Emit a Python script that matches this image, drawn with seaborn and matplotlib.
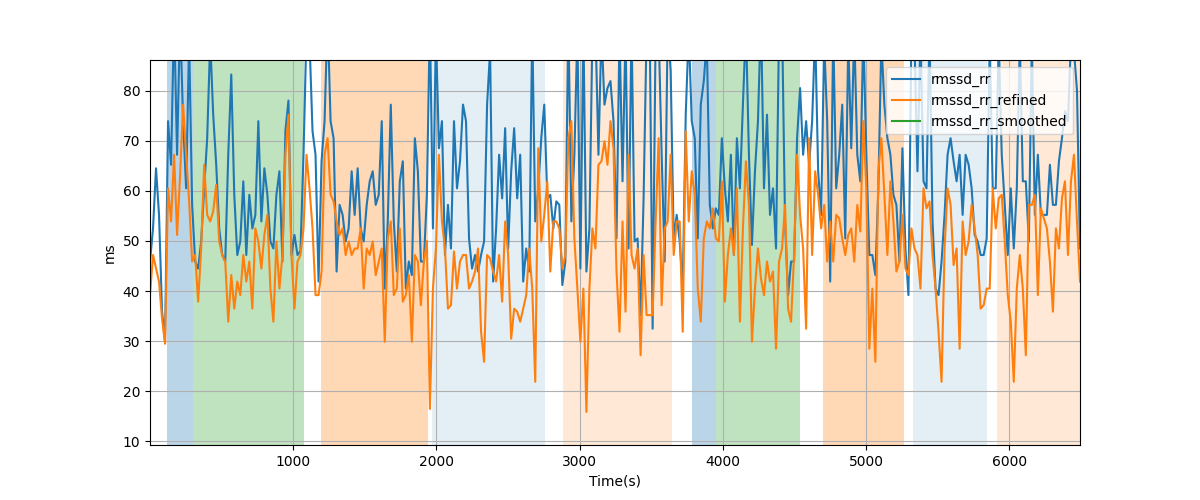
import numpy as np
import pandas as pd
import matplotlib
matplotlib.use("Agg")
import matplotlib.pyplot as plt
from matplotlib.lines import Line2D
import seaborn as sns

# ---- data ----
time_start = 3.0   # seconds, first sample
time_step = 21.0   # seconds between samples
rmssd_rr = [
    45.9, 52.5, 64.5, 55.2, 36.0, 29.9, 73.9, 65.2, 95, 67.2, 95, 73.9, 60.5, 90, 57.2, 45.9, 44.5, 49.9, 60.5, 70.5,
    90, 75.2, 65.2, 52.5, 47.2, 45.9, 67.2, 83.2, 59.2, 47.2, 49.9, 61.9, 47.2, 59.2, 52.5, 55.2, 73.9, 53.9, 64.5, 59.2,
    49.9, 48.5, 59.2, 63.9, 45.9, 72.0, 78.0, 47.2, 51.2, 47.2, 48.0, 67.2, 92, 90, 71.9, 67.2, 41.9, 65.9, 73.9, 95,
    73.9, 70.5, 43.9, 57.2, 55.2, 49.9, 52.5, 63.9, 55.2, 64.5, 52.5, 49.9, 57.2, 61.9, 63.9, 57.2, 59.2, 73.9, 40.5,
    53.9, 77.2, 53.9, 43.9, 61.9, 65.9, 40.5, 45.9, 43.2, 70.5, 63.9, 45.9, 45.9, 59.2, 95, 52.5, 92, 68.5, 73.9, 47.2,
    57.2, 48.5, 73.9, 60.5, 65.9, 77.2, 73.9, 50.5, 44.5, 47.2, 43.9, 47.2, 49.9, 77.2, 88, 41.9, 52.5, 67.2, 58.5,
    72.5, 48.5, 63.9, 72.5, 58.5, 67.2, 41.9, 48.5, 43.9, 93, 53.9, 60.5, 70.5, 77.2, 58.5, 59.2, 52.5, 57.9, 57.2, 41.2,
    45.9, 95, 53.9, 67.2, 92, 44.5, 93, 43.9, 52.5, 92, 93, 67.2, 92, 77.2, 80.5, 81.9, 73.9, 50.5, 92,
    61.9, 92, 48.5, 93, 49.9, 50.5, 35.2, 58.5, 92, 95, 32.5, 92, 92, 67.2, 45.9, 93, 83.9, 50.5, 55.2, 49.9,
    40.5, 75.2, 92, 73.9, 70.5, 50.5, 77.2, 81.9, 90, 57.2, 52.5, 56.5, 55.2, 70.5, 60.5, 53.9, 67.2, 47.2, 70.5,
    60.5, 77.2, 93, 67.2, 49.2, 63.9, 73.9, 95, 60.5, 75.2, 55.2, 60.5, 48.5, 92, 94, 53.9, 39.2, 45.9, 45.9, 70.5,
    80.5, 67.2, 73.9, 65.2, 73.9, 92, 63.9, 55.2, 90, 73.9, 41.9, 92, 60.5, 67.2, 77.2, 50.5, 90, 68.5, 92,
    67.2, 61.9, 92, 67.2, 47.2, 47.2, 43.2, 60.5, 90, 77.2, 70.5, 67.2, 59.2, 57.2, 45.9, 68.5, 48.5, 39.2, 92, 90,
    63.9, 92, 61.9, 60.5, 92, 53.9, 40.5, 39.2, 45.9, 55.2, 67.2, 70.5, 65.9, 61.9, 67.2, 55.2, 67.2, 65.2, 60.5,
    51.2, 49.9, 47.2, 47.2, 50.5, 90, 60.5, 60.5, 90, 67.2, 57.2, 47.2, 60.5, 48.5, 60.5, 90, 61.9, 61.9, 49.9, 90,
    55.2, 67.2, 55.2, 55.2, 55.2, 65.2, 57.2, 57.2, 65.9, 70.5, 75.9, 73.9, 90, 88, 80, 48.5,
]
rmssd_rr_refined = [
    39.2, 47.2, 44.5, 41.9, 34.5, 29.5, 60.5, 53.9, 67.2, 51.2, 63.2, 77.2, 67.2, 57.9, 45.9, 47.2, 37.9, 48.5, 65.2, 55.2,
    53.9, 55.9, 61.2, 49.9, 47.2, 45.9, 33.9, 43.2, 36.5, 41.9, 39.2, 47.2, 41.9, 45.9, 36.5, 52.5, 49.9, 44.5, 51.2, 55.2,
    40.5, 33.9, 49.9, 40.5, 47.2, 67.2, 75.2, 47.2, 36.5, 45.9, 47.2, 52.5, 67.2, 60.5, 52.5, 39.2, 39.2, 43.9, 67.2, 70.5,
    59.2, 57.9, 53.9, 51.2, 52.5, 47.2, 49.9, 47.2, 48.5, 48.5, 52.5, 40.5, 48.5, 47.2, 49.9, 43.2, 45.9, 48.5, 29.9,
    50.5, 53.9, 39.2, 40.5, 52.5, 37.9, 39.2, 43.2, 29.9, 47.2, 45.9, 37.2, 45.9, 50.0, 16.5, 40.5, 48.5, 67.2, 53.9, 48.5,
    36.5, 37.2, 47.9, 40.5, 45.9, 47.2, 47.2, 40.5, 41.9, 43.9, 48.5, 31.9, 25.9, 47.2, 46.5, 43.9, 41.9, 47.2, 37.9,
    53.9, 47.2, 30.5, 36.5, 35.9, 33.9, 36.5, 39.2, 48.5, 40.5, 21.9, 68.5, 49.9, 55.2, 61.9, 43.9, 53.9, 53.9, 52.5, 44.5,
    47.2, 70.5, 73.9, 50.5, 40.5, 29.9, 40.5, 15.9, 40.5, 52.5, 48.5, 65.2, 65.9, 69.9, 65.2, 73.9, 68.5, 43.9, 31.9,
    53.9, 35.9, 67.2, 47.2, 44.5, 48.5, 27.2, 47.2, 35.2, 35.2, 35.2, 53.9, 70.5, 37.2, 52.5, 53.9, 67.2, 47.2, 53.9, 53.9,
    31.9, 71.9, 53.9, 63.9, 59.2, 40.5, 33.9, 50.5, 53.9, 52.5, 56.5, 50.5, 49.9, 61.9, 37.9, 47.2, 52.5, 47.2, 60.5,
    33.9, 52.5, 65.9, 57.2, 29.9, 40.5, 48.5, 42.5, 39.2, 45.9, 41.9, 43.9, 28.5, 45.9, 48.5, 57.2, 36.5, 33.9, 47.2, 67.2,
    55.2, 48.5, 32.5, 70.5, 47.2, 63.9, 59.2, 52.5, 57.2, 45.9, 53.9, 45.9, 55.2, 54.5, 50.5, 47.2, 51.2, 52.5, 45.9,
    57.2, 51.9, 73.9, 60.5, 28.5, 40.5, 25.9, 63.9, 70.5, 59.2, 47.2, 61.9, 53.9, 43.9, 45.9, 55.2, 44.5, 43.2, 52.5, 48.5,
    47.2, 40.5, 60.5, 56.5, 57.9, 47.2, 40.5, 31.9, 21.9, 48.5, 60.5, 57.2, 45.2, 48.5, 28.5, 53.9, 47.2, 49.9, 57.2,
    52.5, 47.2, 36.5, 37.2, 40.5, 40.5, 60.5, 52.5, 58.5, 59.2, 49.9, 39.2, 33.9, 21.9, 40.5, 47.2, 40.5, 27.2, 57.2, 57.2,
    59.2, 39.2, 56.5, 54.5, 52.5, 45.9, 35.9, 52.5, 48.5, 58.5, 61.9, 47.2, 61.9, 67.2, 53.9, 41.9,
]
rmssd_rr_smoothed = []  # not visible in the reference (empty series)

# shaded phases: (start, end, colour, alpha)
span_starts = [120, 300, 1193, 1968, 2883, 3784, 3952, 4699, 5325, 5914]
span_ends = [300, 1075, 1946, 2756, 3645, 3952, 4536, 5267, 5842, 6500]
span_colors = ["tab:blue", "tab:green", "tab:orange", "tab:blue", "tab:orange",
               "tab:blue", "tab:green", "tab:orange", "tab:blue", "tab:orange"]
span_alphas = [0.3, 0.3, 0.3, 0.12, 0.17, 0.3, 0.3, 0.3, 0.12, 0.17]

n = min(len(rmssd_rr), len(rmssd_rr_refined))
time = time_start + np.arange(n) * time_step

df = pd.DataFrame({
    "Time(s)": np.concatenate([time, time]),
    "ms": np.concatenate([rmssd_rr[:n], rmssd_rr_refined[:n]]),
    "series": ["rmssd_rr"] * n + ["rmssd_rr_refined"] * n,
})

fig, ax = plt.subplots(figsize=(12, 5), dpi=100)

for s, e, c, a in zip(span_starts, span_ends, span_colors, span_alphas):
    ax.axvspan(s, e, color=c, alpha=a, lw=0)

sns.lineplot(data=df, x="Time(s)", y="ms", hue="series",
             palette=["tab:blue", "tab:orange"], estimator=None, sort=False,
             linewidth=1.5, ax=ax)
ax.plot(time[:len(rmssd_rr_smoothed)], rmssd_rr_smoothed, color="tab:green")

ax.grid(True)
ax.set_xlim(time[0], time[-1])
ax.set_ylim(9.3, 86.1)
ax.set_xlabel("Time(s)")
ax.set_ylabel("ms")

handles = [Line2D([], [], color="tab:blue", lw=1.5),
           Line2D([], [], color="tab:orange", lw=1.5),
           Line2D([], [], color="tab:green", lw=1.5)]
ax.legend(handles, ["rmssd_rr", "rmssd_rr_refined", "rmssd_rr_smoothed"], loc="upper right")

fig.savefig("out.png", dpi=100)
